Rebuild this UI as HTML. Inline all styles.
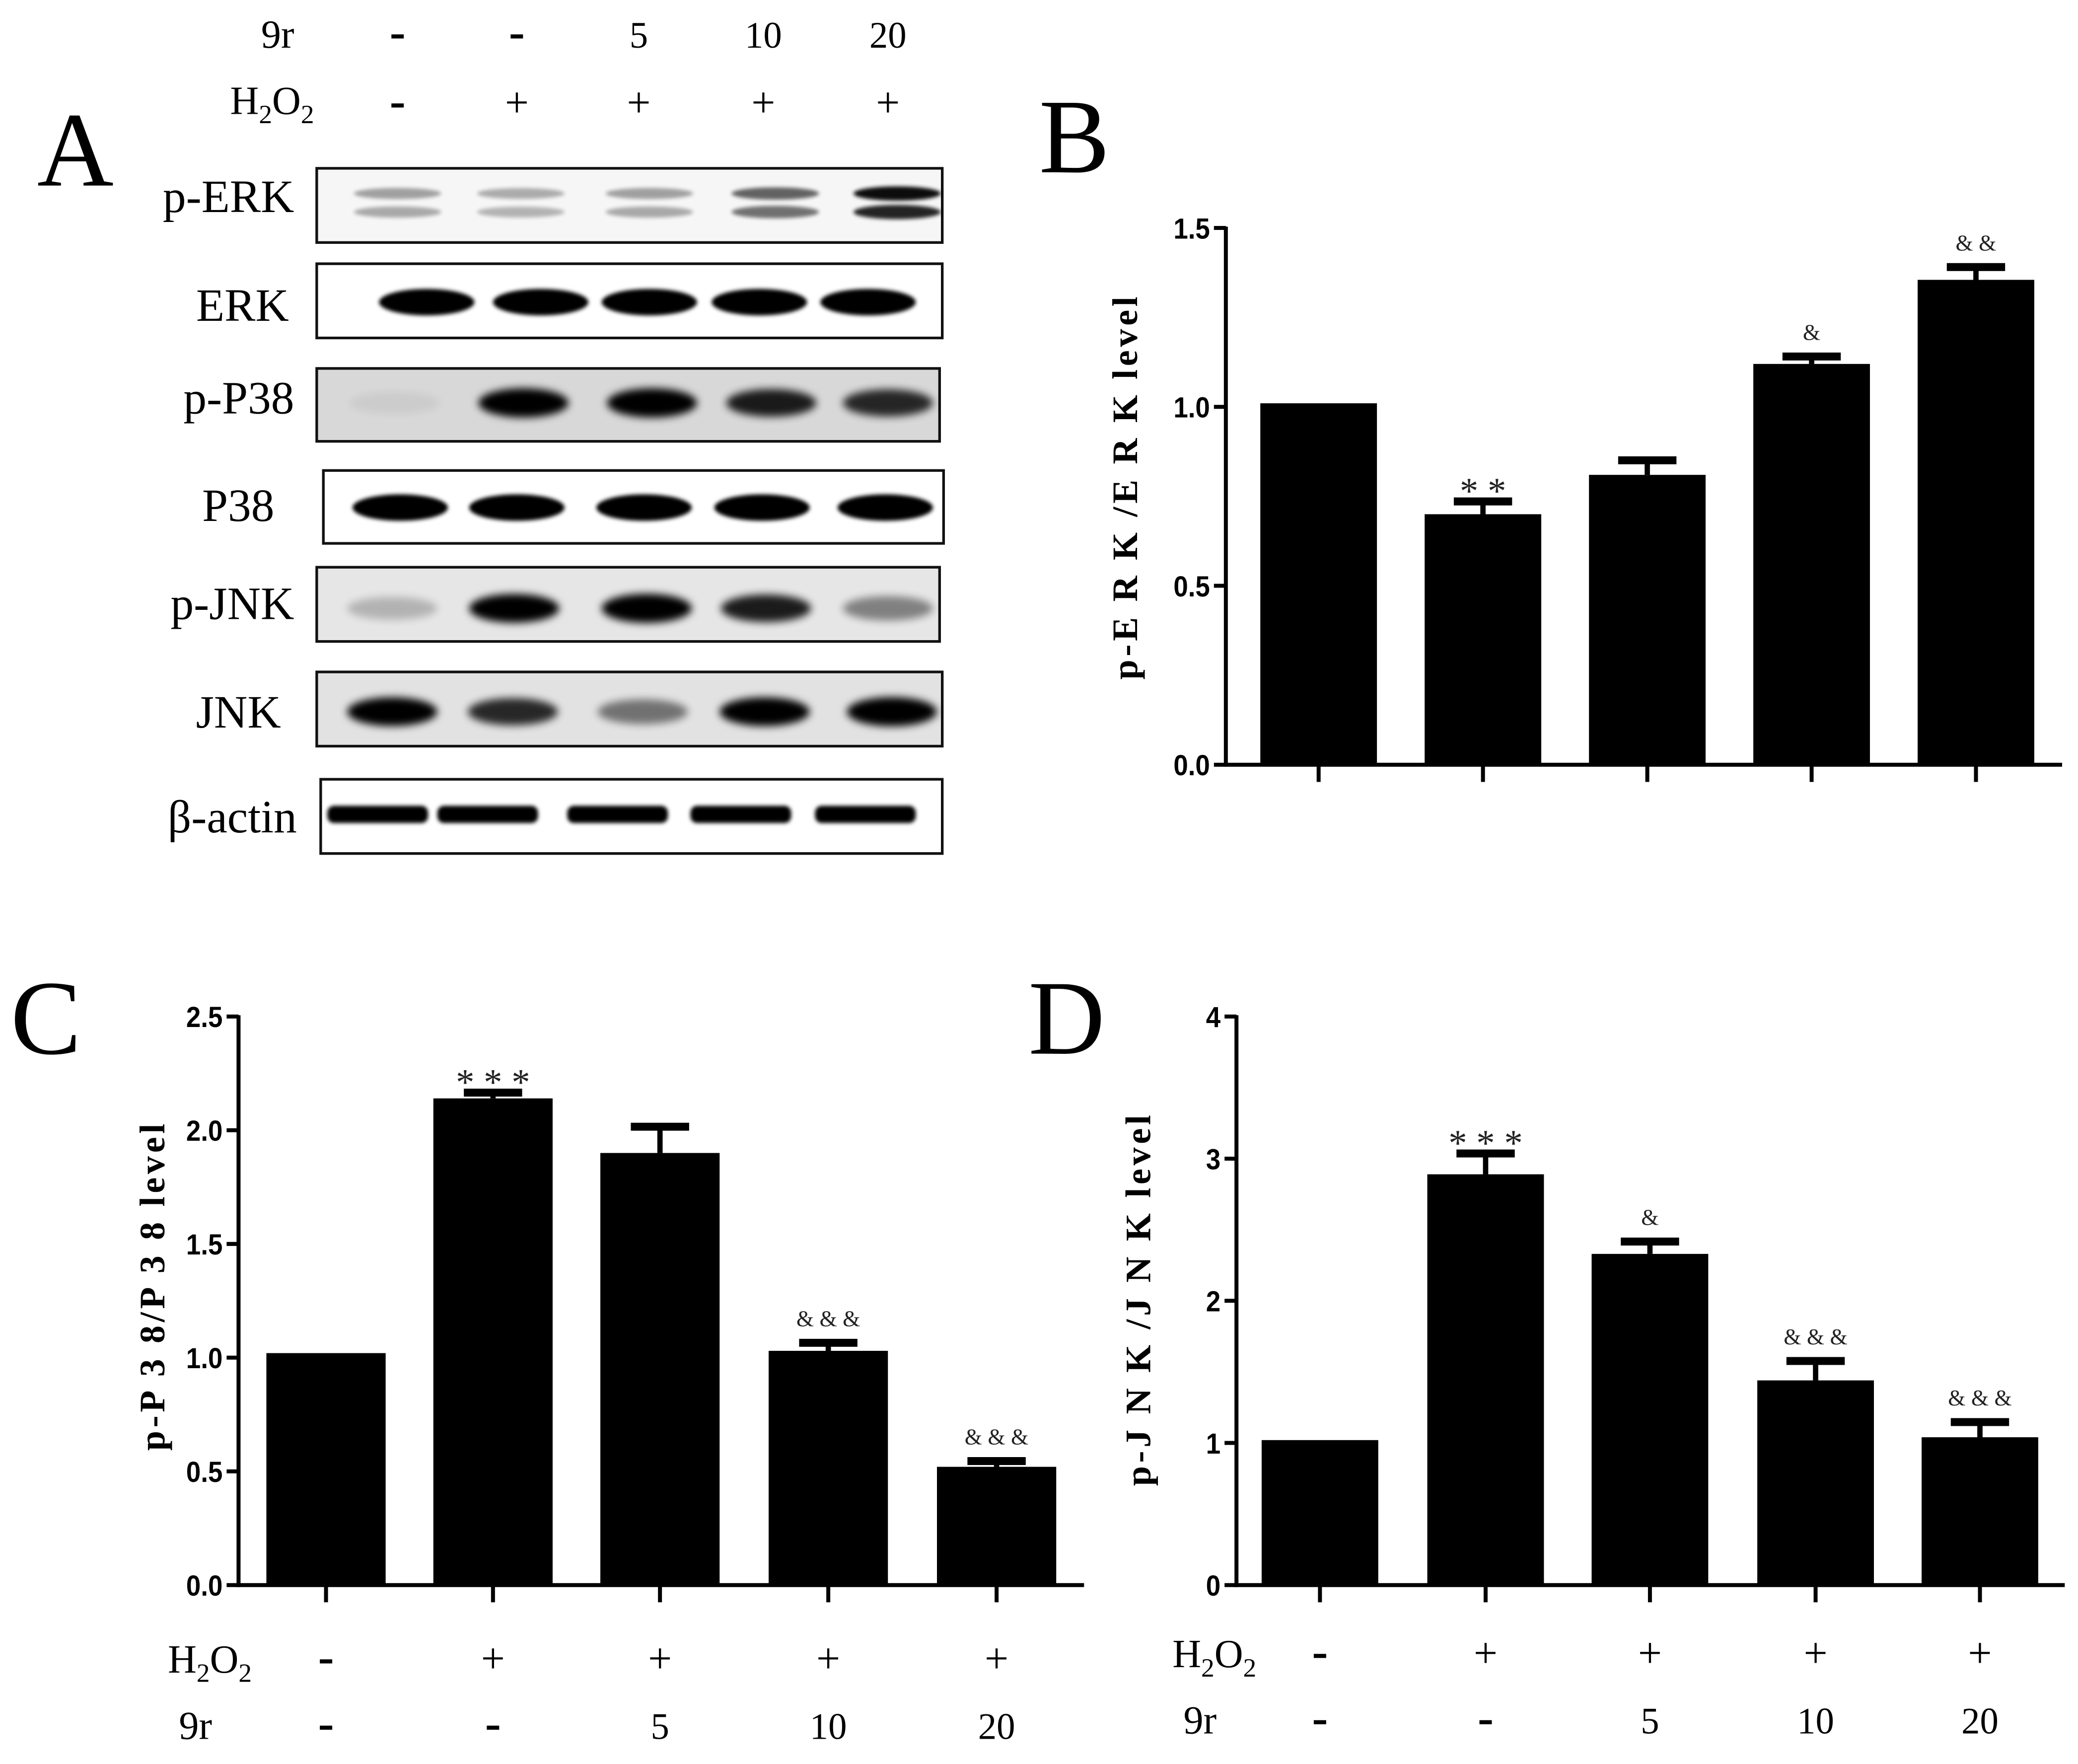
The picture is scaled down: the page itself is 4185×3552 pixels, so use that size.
<!DOCTYPE html>
<html><head><meta charset="utf-8">
<style>
html,body{margin:0;padding:0;background:#fff;}
svg{display:block;}
.serif{font-family:"Liberation Serif",serif;}
.sans{font-family:"Liberation Sans",sans-serif;font-weight:bold;}
</style></head>
<body>
<svg id="fig" width="4185" height="3552" viewBox="0 0 1568 1331" preserveAspectRatio="none" xmlns="http://www.w3.org/2000/svg">
<defs>
<filter id="blur" x="-30%" y="-100%" width="160%" height="300%"><feGaussianBlur stdDeviation="3"/></filter>
<filter id="blur2" x="-30%" y="-100%" width="160%" height="300%"><feGaussianBlur stdDeviation="1.5"/></filter>
</defs>
<g id="panelA"></g>
<g id="chartB"></g>
<g id="chartC"></g>
<g id="chartD"></g>
</svg>
<script>
// ---- chart data ----
const groups = ["ctrl","H2O2","H2O2+9r5","H2O2+9r10","H2O2+9r20"];
const h2o2Labels = ["-","+","+","+","+"];
const r9Labels = ["-","-","5","10","20"];
const valuesB = [1.01, 0.70, 0.81, 1.12, 1.355];
const errorsB = [0, 0.045, 0.05, 0.03, 0.045];
const sigB = ["", "* *", "", "&", "& &"];
const ticksB = [0.0, 0.5, 1.0, 1.5];
const tickLabelsB = ["0.0","0.5","1.0","1.5"];
const valuesC = [1.02, 2.14, 1.90, 1.03, 0.52];
const errorsC = [0, 0.04, 0.13, 0.05, 0.04];
const sigC = ["", "* * *", "", "& & &", "& & &"];
const ticksC = [0.0, 0.5, 1.0, 1.5, 2.0, 2.5];
const tickLabelsC = ["0.0","0.5","1.0","1.5","2.0","2.5"];
const valuesD = [1.02, 2.89, 2.33, 1.44, 1.04];
const errorsD = [0, 0.17, 0.11, 0.16, 0.13];
const sigD = ["", "* * *", "&", "& & &", "& & &"];
const ticksD = [0, 1, 2, 3, 4];
const tickLabelsD = ["0","1","2","3","4"];

const NS = "http://www.w3.org/2000/svg";
function mk(parent, tag, attrs, text){
  const e = document.createElementNS(NS, tag);
  for (const k in attrs) e.setAttribute(k, attrs[k]);
  if (text !== undefined) e.textContent = text;
  parent.appendChild(e);
  return e;
}

function drawChart(g, cfg){
  const {x0, x1, yTop, yBot, ymax, centers, barW, values, errors, sig, ticks, tickLabels, title, titleX, titleY} = cfg;
  const yS = v => yBot - (v / ymax) * (yBot - yTop);
  const ya = mk(g, "line", {x1:x0, y1:yTop-1, x2:x0, y2:yBot+1.5, stroke:"#000","stroke-width":3});
  
  
  const xa = mk(g, "line", {x1:x0-1.5, y1:yBot, x2:x1, y2:yBot, stroke:"#000","stroke-width":3});
  
  
  ticks.forEach((t, i) => {
    const y = yS(t);
    const tk = mk(g, "line", {x1:x0-9, y1:y, x2:x0, y2:y, stroke:"#000","stroke-width":3});
    
    
    const tl = mk(g, "text", {x:x0-12, y:y+8, "text-anchor":"end", "font-size":22, class:"sans", transform:`translate(${x0-12} 0) scale(0.9 1) translate(${-(x0-12)} 0)`}, tickLabels[i]);
    
    
  });
  values.forEach((v, i) => {
    const c = centers[i];
    const xt = mk(g, "line", {x1:c, y1:yBot, x2:c, y2:yBot+13, stroke:"#000","stroke-width":3});
    
    
    const bar = mk(g, "rect", {x:c-barW/2, y:yS(v), width:barW, height:yBot-yS(v), fill:"#000"});
    
    
    if (errors[i] > 0){
      const ye = yS(v + errors[i]);
      const el = mk(g, "line", {x1:c, y1:yS(v), x2:c, y2:ye, stroke:"#000","stroke-width":4});
      
      
      const cap = mk(g, "line", {x1:c-22, y1:ye+2.5, x2:c+22, y2:ye+2.5, stroke:"#000","stroke-width":6});
      
      
    }
    if (sig[i]){
      const top = yS(v + errors[i]);
      const isStar = sig[i].indexOf("*") >= 0;
      const st = mk(g, "text", {x:c, y:top + (isStar ? 4 : -10), "text-anchor":"middle", "font-size": isStar ? 28 : 17, class:"serif", fill:"#222"}, sig[i]);
      
      
    }
  });
  const tt = mk(g, "text", {x:titleX, y:titleY, transform:`rotate(-90 ${titleX} ${titleY})`, "text-anchor":"middle", "font-size":27, "font-weight":"bold", "letter-spacing":"2.5", class:"serif"}, title);
  
  
}

function drawCondRows(g, centers, xLabel, yH, y9){
  const h = mk(g, "text", {x:xLabel, y:yH, "text-anchor":"end", "font-size":30, class:"serif"});
  
  
  h.innerHTML = 'H<tspan font-size="20" dy="7">2</tspan><tspan dy="-7">O</tspan><tspan font-size="20" dy="7">2</tspan>';
  const r = mk(g, "text", {x:xLabel-30, y:y9, "text-anchor":"end", "font-size":30, class:"serif"}, "9r");
  
  
  centers.forEach((c, i) => {
    const a = mk(g, "text", {x:c, y:yH, "text-anchor":"middle", "font-size": h2o2Labels[i]=="-" ? 36 : 32, "font-weight": h2o2Labels[i]=="-" ? "bold":"normal", class:"serif"}, h2o2Labels[i]);
    
    
    const b = mk(g, "text", {x:c, y:y9, "text-anchor":"middle", "font-size": r9Labels[i]=="-" ? 36 : 28, "font-weight": r9Labels[i]=="-" ? "bold":"normal", class:"serif"}, r9Labels[i]);
    
    
  });
}

// ---- Panel B ----
const gB = document.getElementById("chartB");
drawChart(gB, {x0:925, x1:1556, yTop:172, yBot:577, ymax:1.5, centers:[995,1119,1243,1367,1491], barW:88,
  values:valuesB, errors:errorsB, sig:sigB, ticks:ticksB, tickLabels:tickLabelsB, title:"p-E R K /E R K  level", titleX:858, titleY:367});
const lB = mk(gB, "text", {x:784, y:130, "font-size":80, class:"serif"}, "B");



// ---- Panel C ----
const gC = document.getElementById("chartC");
drawChart(gC, {x0:180, x1:818, yTop:767, yBot:1196, ymax:2.5, centers:[246,372,498,625,752], barW:90,
  values:valuesC, errors:errorsC, sig:sigC, ticks:ticksC, tickLabels:tickLabelsC, title:"p-P 3 8/P 3 8  level", titleX:124, titleY:970});
const lC = mk(gC, "text", {x:8, y:795, "font-size":80, class:"serif"}, "C");


drawCondRows(gC, [246,372,498,625,752], 190, 1262, 1312);

// ---- Panel D ----
const gD = document.getElementById("chartD");
drawChart(gD, {x0:933, x1:1558, yTop:767, yBot:1196, ymax:4, centers:[996,1121,1245,1370,1494], barW:88,
  values:valuesD, errors:errorsD, sig:sigD, ticks:ticksD, tickLabels:tickLabelsD, title:"p-J N K /J N K  level", titleX:868, titleY:980});
const lD = mk(gD, "text", {x:776, y:795, "font-size":80, class:"serif"}, "D");


drawCondRows(gD, [996,1121,1245,1370,1494], 948, 1258, 1308);

// ---- Panel A (western blot) ----
const blotNames = ["p-ERK","ERK","p-P38","P38","p-JNK","JNK","β-actin"];
const blotBoxes = [[239,127,711,183],[239,199,711,255],[239,278,709,333],[244,355,712,410],[239,428,709,484],[239,507,711,563],[242,588,711,644]];
const blotBg = ["#f6f6f6","#fff","#d8d8d8","#fff","#e6e6e6","#e2e2e2","#fff"];
const bandIntensity = [
  [0.35,0.3,0.35,0.6,0.95],
  [1,1,1,1,1],
  [0.05,1,1,0.8,0.75],
  [1,1,1,1,1],
  [0.2,0.95,1,0.8,0.4],
  [0.95,0.75,0.45,0.95,1],
  [1,1,1,1,1]
];
const laneCenters = [
  [300,393,490,585,677],
  [322,408,490,573,655],
  [298,395,492,582,670],
  [302,390,486,575,668],
  [296,388,488,578,670],
  [296,387,485,577,673],
  [285,368,466,559,653]
];
const bandY = [null,228,304,383,459,537,615];
const gA = document.getElementById("panelA");
const lA = mk(gA, "text", {x:28, y:140, "font-size":80, class:"serif"}, "A");


const topLanes = [300,390,482,576,670];
const r9Top = ["-","-","5","10","20"];
const h2Top = ["-","+","+","+","+"];
const t9 = mk(gA, "text", {x:222, y:36, "text-anchor":"end", "font-size":30, class:"serif"}, "9r");


const th = mk(gA, "text", {x:237, y:86, "text-anchor":"end", "font-size":30, class:"serif"});


th.innerHTML = 'H<tspan font-size="20" dy="7">2</tspan><tspan dy="-7">O</tspan><tspan font-size="20" dy="7">2</tspan>';
topLanes.forEach((c,i)=>{
  const a = mk(gA, "text", {x:c, y:36, "text-anchor":"middle", "font-size": r9Top[i]=="-"?36:28, "font-weight": r9Top[i]=="-"?"bold":"normal", class:"serif"}, r9Top[i]);
  
  
  const b = mk(gA, "text", {x:c, y:88, "text-anchor":"middle", "font-size": h2Top[i]=="-"?36:32, "font-weight": h2Top[i]=="-"?"bold":"normal", class:"serif"}, h2Top[i]);
  
  
});
const labelY = [160,242,312,393,467,549,628];
const labelX = [222,218,222,207,222,212,224];
blotBoxes.forEach((bx, r) => {
  const [x0,y0,x1,y1] = bx;
  const box = mk(gA, "rect", {x:x0, y:y0, width:x1-x0, height:y1-y0, fill:blotBg[r], stroke:"#111","stroke-width":2});
  
  
  const lbl = mk(gA, "text", {x:labelX[r], y:labelY[r], "text-anchor":"end", "font-size":35, class:"serif"}, blotNames[r]);
  
  
  const clip = mk(gA, "g", {});
  bandIntensity[r].forEach((inten, l) => {
    if (inten <= 0) return;
    const c = laneCenters[r][l];
    if (r === 0){
      [146,160].forEach((yy, k) => {
        const band = mk(clip, "ellipse", {cx:c, cy:yy, rx:33, ry:3.5 + inten*2, fill:"#000", opacity:Math.min(1, inten*(k?0.9:1)), filter:"url(#blur2)"});
        
        
      });
    } else if (r === 6){
      const band = mk(clip, "rect", {x:c-38, y:bandY[r]-7, width:76, height:13, rx:5, fill:"#000", filter:"url(#blur2)"});
      
      
    } else {
      const soft = (r===2||r===4||r===5);
      const band = mk(clip, "ellipse", {cx:c, cy:bandY[r], rx: soft?34:36, ry: soft?8+inten*3:10, fill:"#000", opacity:Math.min(1,inten*(soft?1.1:1)), filter: soft?"url(#blur)":"url(#blur2)"});
      
      
    }
  });
});
</script>
</body></html>
